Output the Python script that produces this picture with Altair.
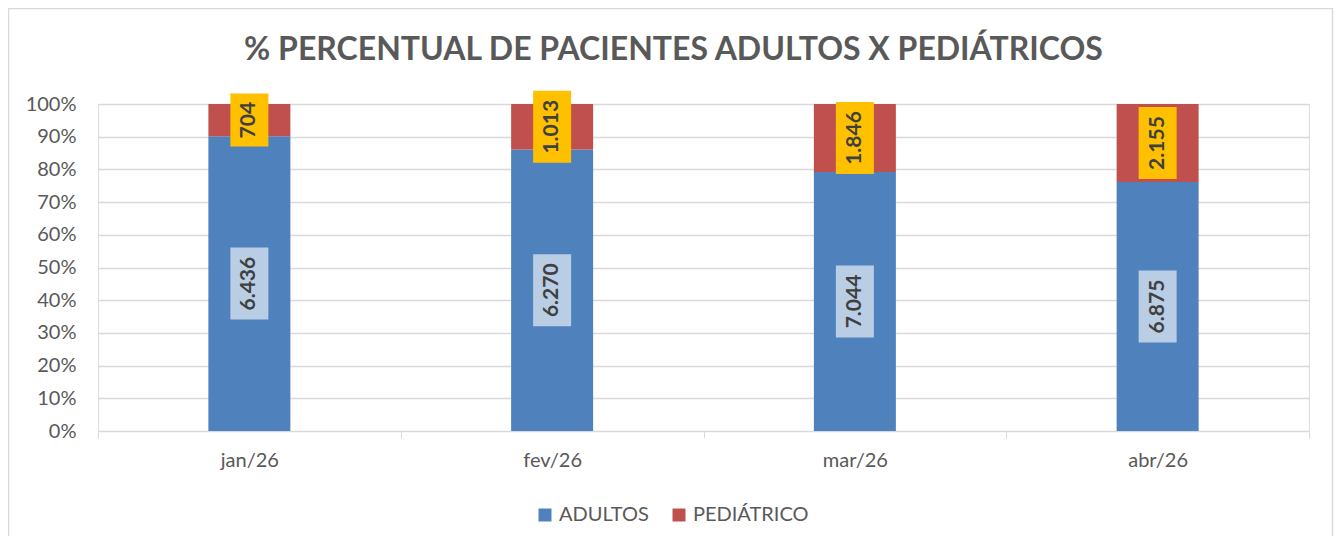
import altair as alt
import pandas as pd

meses = ["jan/26", "fev/26", "mar/26", "abr/26"]
adultos = [6436, 6270, 7044, 6875]
pediatrico = [704, 1013, 1846, 2155]
series = ["ADULTOS", "PEDIÁTRICO"]
cores = ["#4F81BD", "#C0504D"]
fundo_rotulo = ["#B9CDE5", "#FFC000"]
y_ticks = [0, 0.1, 0.2, 0.3, 0.4, 0.5, 0.6, 0.7, 0.8, 0.9, 1.0]

rows = []
for i, m in enumerate(meses):
    rows.append({"mes": m, "serie": series[0], "valor": adultos[i], "ordem": 0})
    rows.append({"mes": m, "serie": series[1], "valor": pediatrico[i], "ordem": 1})
df = pd.DataFrame(rows)

FONT = "Lato"
W, H = 1211, 327

base = alt.Chart(df).transform_stack(
    stack="valor", groupby=["mes"], as_=["y0", "y1"], offset="normalize",
    sort=[alt.SortField("ordem")]
).transform_calculate(
    meio="(datum.y0 + datum.y1) / 2",
    rotulo="replace(format(datum.valor, ','), ',', '.')",
).transform_calculate(
    n="length(datum.rotulo)"
)

x_axis = alt.Axis(title=None, labelAngle=0, tickBand="extent",
                  domainColor="#D9D9D9", tickColor="#D9D9D9", tickSize=7,
                  labelFontSize=20, labelColor="#595959", labelFont=FONT,
                  labelPadding=12)
x_scale = alt.Scale(paddingInner=0, paddingOuter=0)
y_axis = alt.Axis(title=None, format="%", values=y_ticks, grid=True,
                  gridColor="#D9D9D9", gridWidth=1.3, domain=False, ticks=False,
                  labelFontSize=20, labelColor="#595959", labelFont=FONT,
                  labelPadding=22, labelOverlap=False)
y_scale = alt.Scale(domain=[0, 1])


def X():
    return alt.X("mes:N", sort=meses, scale=x_scale, axis=x_axis)


def Y(field):
    return alt.Y(field, scale=y_scale, axis=y_axis)


bars = base.mark_bar(width=82).encode(
    x=X(),
    y=Y("y0:Q"),
    y2="y1:Q",
    color=alt.Color("serie:N", scale=alt.Scale(domain=series, range=cores),
                    legend=alt.Legend(title=None, orient="none", direction="horizontal",
                                      legendX=437, legendY=401, symbolType="square",
                                      symbolSize=169, symbolStrokeWidth=0,
                                      labelFontSize=20, labelColor="#595959",
                                      labelFont=FONT, columnPadding=20, labelOffset=4)),
)

fill_enc = alt.Fill("serie:N", scale=alt.Scale(domain=series, range=fundo_rotulo), legend=None)

box_short = base.transform_filter("datum.n <= 3").mark_rect(width=38, height=53).encode(
    x=X(), y=Y("meio:Q"), fill=fill_enc)
box_long = base.transform_filter("datum.n > 3").mark_rect(width=38, height=72).encode(
    x=X(), y=Y("meio:Q"), fill=fill_enc)

labels = base.mark_text(angle=270, fontSize=21, fontWeight="bold", color="#404040",
                        font=FONT, baseline="middle", align="center").encode(
    x=X(), y=Y("meio:Q"), text="rotulo:N")

border = alt.Chart(alt.Data(values=[{"a": 1}])).mark_rect(
    fill=None, stroke="#D9D9D9", strokeWidth=1.5).encode(
    x=alt.value(-89.5), x2=alt.value(1234.5), y=alt.value(-95.5), y2=alt.value(436.5))

chart = alt.layer(border, bars, box_short, box_long, labels).properties(
    width=W, height=H,
    title=alt.TitleParams("% PERCENTUAL DE PACIENTES ADULTOS X PEDIÁTRICOS",
                          font=FONT, fontSize=32, fontWeight="bold", color="#595959",
                          anchor="middle", dx=-30, offset=0, baseline="alphabetic", dy=84),
    autosize=alt.AutoSizeParams(type="none"),
    padding={"left": 90, "top": 96, "right": 25, "bottom": 105},
).configure_view(stroke=None).configure(background="white")

chart.save("out.html", embed_options={"renderer": "svg", "actions": False})
